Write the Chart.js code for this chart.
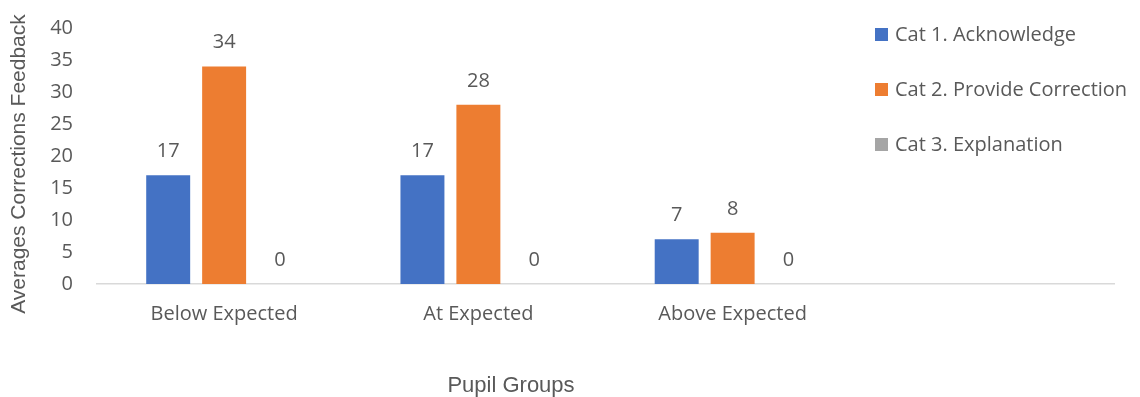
<!DOCTYPE html>
<html>
<head>
<meta charset="utf-8">
<script src="https://cdn.jsdelivr.net/npm/chart.js@4/dist/chart.umd.min.js"></script>
<style>
  html, body { margin: 0; padding: 0; background: #fff; }
  #wrap { width: 1140px; height: 397px; position: relative; }
</style>
</head>
<body>
<div id="wrap"><canvas id="chart"></canvas></div>
<script>
// groups on the x axis (last slot left empty, as in the source sheet)
const groups = ['Below Expected', 'At Expected', 'Above Expected', ''];
const seriesNames = ['Cat 1. Acknowledge', 'Cat 2. Provide Correction', 'Cat 3. Explanation'];
const acknowledge = [17, 17, 7, null];
const provideCorrection = [34, 28, 8, null];
const explanation = [0, 0, 0, null];
const seriesColors = ['#4472C4', '#ED7D31', '#A5A5A5'];
const yTitle = 'Averages Corrections Feedback';
const xTitle = 'Pupil Groups';

const textColor = '#595959';
const bodyFont = '"Open Sans", "Noto Sans", sans-serif';
const titleFont = '"Liberation Sans", Arial, sans-serif';

// numbers above each bar
const valueLabels = {
  id: 'valueLabels',
  afterDatasetsDraw(chart) {
    const ctx = chart.ctx;
    ctx.save();
    ctx.font = '20px ' + bodyFont;
    ctx.fillStyle = textColor;
    ctx.textAlign = 'center';
    ctx.textBaseline = 'middle';
    chart.data.datasets.forEach((ds, i) => {
      chart.getDatasetMeta(i).data.forEach((bar, j) => {
        const v = ds.data[j];
        if (v === null) return;
        ctx.fillText(String(v), bar.x, bar.y - 24);
      });
    });
    ctx.restore();
  }
};

// legend sits inside the plot area on the right, plus both axis titles
const extras = {
  id: 'extras',
  afterDraw(chart) {
    const ctx = chart.ctx;
    ctx.save();
    ctx.font = '20px ' + bodyFont;
    ctx.textBaseline = 'middle';
    ctx.textAlign = 'left';
    chart.data.datasets.forEach((ds, i) => {
      const y = 35 + i * 55;
      ctx.fillStyle = ds.backgroundColor;
      ctx.fillRect(875, y - 7, 13, 13);
      ctx.fillStyle = textColor;
      ctx.fillText(ds.label, 895, y);
    });

    ctx.fillStyle = textColor;
    ctx.textAlign = 'center';
    ctx.font = '22px ' + titleFont;
    ctx.fillText(xTitle, 511, 386);

    ctx.font = '21px ' + titleFont;
    ctx.translate(19, 164);
    ctx.rotate(-Math.PI / 2);
    ctx.fillText(yTitle, 0, 0);
    ctx.restore();
  }
};

new Chart(document.getElementById('chart'), {
  type: 'bar',
  data: {
    labels: groups,
    datasets: [
      { label: seriesNames[0], data: acknowledge, backgroundColor: seriesColors[0] },
      { label: seriesNames[1], data: provideCorrection, backgroundColor: seriesColors[1] },
      { label: seriesNames[2], data: explanation, backgroundColor: seriesColors[2] }
    ]
  },
  options: {
    responsive: true,
    maintainAspectRatio: false,
    animation: false,
    layout: { padding: { top: 28, right: 26, bottom: 0, left: 0 } },
    datasets: { bar: { categoryPercentage: 0.66, barPercentage: 0.786 } },
    plugins: { legend: { display: false }, tooltip: { enabled: false } },
    scales: {
      x: {
        grid: { display: false, drawTicks: false },
        border: { display: true, color: '#D9D9D9', width: 1.5 },
        ticks: { color: textColor, font: { family: bodyFont, size: 20 }, padding: 18, maxRotation: 0 },
        afterFit(scale) { scale.height = 113; }
      },
      y: {
        min: 0,
        max: 40,
        grid: { display: false, drawTicks: false },
        border: { display: false },
        ticks: { stepSize: 5, color: textColor, font: { family: bodyFont, size: 20 }, padding: 24 },
        afterFit(scale) {
          scale.width = 97;
          // the tick padding should only push labels sideways, not shrink the plot
          scale.paddingTop = 0;
          scale.paddingBottom = 0;
        }
      }
    }
  },
  plugins: [valueLabels, extras]
});
</script>
</body>
</html>
